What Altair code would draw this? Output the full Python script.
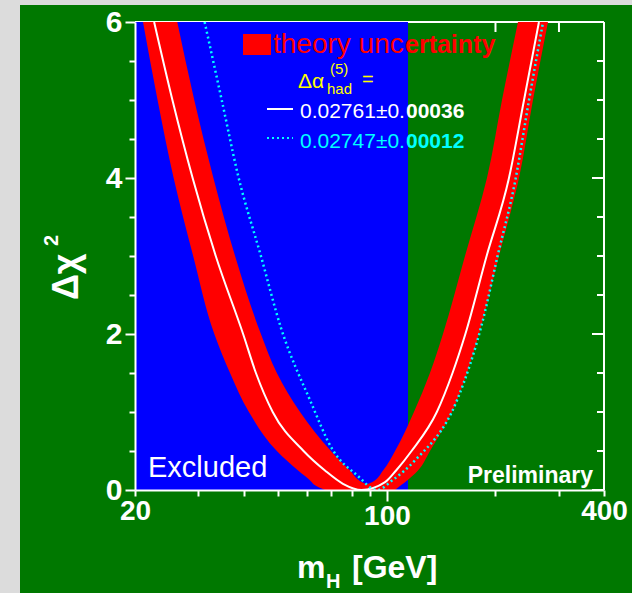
import altair as alt
import pandas as pd

# ---------------- data ----------------
excl_lo = [20.0]
excl_hi = [114.4]

# central fit (white solid)
white_mh = [22.6, 25.4, 28.9, 33.5, 39.9, 43.3, 48.2, 58.7, 67.3, 75.5, 85.0,
            98.8, 106.0, 117.0, 137.5, 152.0, 165.0, 189.0, 218.0, 240.0, 264.0]
white_chi2 = [6.0, 5.0, 4.0, 3.0, 2.0, 1.5, 1.0, 0.5, 0.25, 0.08, 0.0,
              0.1, 0.25, 0.5, 1.0, 1.5, 2.0, 3.0, 4.0, 5.0, 6.0]

# alternative Delta alpha (cyan dotted)
cyan_mh = [31.2, 34.8, 38.6, 44.7, 50.8, 61.2, 70.8, 82.6, 93.8, 103.9,
           119.6, 156.4, 184.6, 202.7, 227.0, 247.8, 271.0]
cyan_chi2 = [6.0, 5.0, 4.04, 3.0, 2.08, 1.15, 0.51, 0.19, 0.0, 0.13,
             0.38, 1.15, 2.18, 3.0, 3.97, 5.0, 6.0]

# theory uncertainty band, left branch (horizontal extent at each chi2 level)
bandL_chi2 = [0.0, 0.07, 0.1, 0.25, 0.5, 1.0, 1.5, 2.0, 3.0, 4.0, 5.0, 6.0]
bandL_lo = [67.3, 62.7, 61.9, 56.7, 49.5, 41.4, 36.7, 33.2, 29.0, 25.6, 23.1, 21.05]
bandL_hi = [88.0, 88.0, 85.3, 79.0, 69.9, 57.4, 49.5, 44.7, 37.9, 33.0, 29.2, 26.2]
# right branch
bandR_chi2 = [0.0, 0.07, 0.1, 0.25, 0.5, 1.0, 1.5, 2.0, 3.0, 4.0, 5.0, 6.0]
bandR_lo = [88.0, 88.0, 90.9, 97.5, 105.3, 118.8, 131.6, 143.0, 164.6, 189.4, 208.5, 230.9]
bandR_hi = [105.3, 110.0, 112.2, 121.9, 131.6, 151.5, 166.7, 180.0, 204.5, 232.4, 254.1, 279.7]

x_ticks = [20, 30, 40, 50, 60, 70, 80, 90, 100, 200, 300, 400]
x_labels = [20, 100, 400]
y_ticks = [0, 0.5, 1, 1.5, 2, 2.5, 3, 3.5, 4, 4.5, 5, 5.5, 6]
y_major = [0, 2, 4, 6]
y_minor = [0.5, 1, 1.5, 2.5, 3, 3.5, 4.5, 5, 5.5]
top_ticks = [200, 300]

legend_title = "theory unc"
legend_title_b = "ertainty"
leg1_a, leg1_b = "0.02761\u00b10.", "00036"
leg2_a, leg2_b = "0.02747\u00b10.", "00012"

# ---------------- styling ----------------
W, H = 469, 468
GREEN = "#007800"
BLUE = "#0000ff"
RED = "#ff0000"
CYAN = "#00ffff"
YELLOW = "#ffff00"
FONT = "Liberation Sans"

x_scale = alt.Scale(type="log", domain=[20, 400], nice=False)
y_scale = alt.Scale(domain=[0, 6], nice=False, zero=False)

label_test = " || ".join(f"datum.value == {v}" for v in x_labels)
X_AX = alt.Axis(values=x_ticks, title=None, grid=False, zindex=1,
                domainColor="white", domainWidth=2, tickColor="white", tickWidth=2,
                tickSize={"condition": {"test": "datum.value == 100", "value": 11}, "value": 6},
                labelExpr=f"({label_test}) ? format(datum.value, 'd') : ''",
                labelColor="white", labelFont=FONT, labelFontSize=28, labelFontWeight="bold",
                labelPadding=1, labelOverlap=False, labelFlush=False, labelBound=False)
Y_AX = alt.Axis(values=y_ticks, title=None, grid=False, zindex=1,
                domainColor="white", domainWidth=2, tickColor="white", tickWidth=2,
                tickSize={"condition": {"test": "datum.value % 2 == 0", "value": 10}, "value": 6},
                labelExpr="datum.value % 2 == 0 ? format(datum.value, 'd') : ''",
                labelColor="white", labelFont=FONT, labelFontSize=30, labelFontWeight="bold",
                labelPadding=3, labelOverlap=False, labelFlush=False, labelBound=False)

one = pd.DataFrame({"k": [0]})

green_bg = alt.Chart(one).mark_rect(color=GREEN).encode(
    x=alt.value(-115), x2=alt.value(497), y=alt.value(-17), y2=alt.value(571))

top_line = alt.Chart(one).mark_rule(color="white", strokeWidth=2).encode(
    x=alt.value(0), x2=alt.value(W), y=alt.value(0))

excl_df = pd.DataFrame({"lo": excl_lo, "hi": excl_hi})
blue = alt.Chart(excl_df).mark_rect(color=BLUE).encode(
    x=alt.X("lo:Q", scale=x_scale, axis=X_AX), x2="hi:Q",
    y=alt.value(0), y2=alt.value(H))

bandL_df = pd.DataFrame({"chi2": bandL_chi2, "lo": bandL_lo, "hi": bandL_hi})
bandR_df = pd.DataFrame({"chi2": bandR_chi2, "lo": bandR_lo, "hi": bandR_hi})


def band(df):
    return alt.Chart(df).mark_area(color=RED, orient="horizontal", interpolate="monotone").encode(
        y=alt.Y("chi2:Q", scale=y_scale, axis=Y_AX),
        x=alt.X("lo:Q", scale=x_scale, axis=X_AX), x2="hi:Q")


white_df = pd.DataFrame({"mh": white_mh, "chi2": white_chi2})
white = alt.Chart(white_df).mark_line(color="white", strokeWidth=2, interpolate="monotone").encode(
    x=alt.X("mh:Q", scale=x_scale, axis=X_AX), y=alt.Y("chi2:Q", scale=y_scale, axis=Y_AX))

cyan_df = pd.DataFrame({"mh": cyan_mh, "chi2": cyan_chi2})
cyan = alt.Chart(cyan_df).mark_line(color=CYAN, strokeWidth=2.5, strokeDash=[2, 3],
                                    interpolate="monotone").encode(
    x=alt.X("mh:Q", scale=x_scale, axis=X_AX), y=alt.Y("chi2:Q", scale=y_scale, axis=Y_AX))

right_line = alt.Chart(one).mark_rule(color="white", strokeWidth=2).encode(
    x=alt.value(W), y=alt.value(0), y2=alt.value(H))

rmaj = alt.Chart(pd.DataFrame({"v": y_major})).mark_rule(color="white", strokeWidth=2).encode(
    y=alt.Y("v:Q", scale=y_scale, axis=Y_AX), x=alt.value(W - 12), x2=alt.value(W))
rmin = alt.Chart(pd.DataFrame({"v": y_minor})).mark_rule(color="white", strokeWidth=2).encode(
    y=alt.Y("v:Q", scale=y_scale, axis=Y_AX), x=alt.value(W - 7), x2=alt.value(W))
tticks = alt.Chart(pd.DataFrame({"v": top_ticks})).mark_rule(color="white", strokeWidth=2).encode(
    x=alt.X("v:Q", scale=x_scale, axis=X_AX), y=alt.value(0), y2=alt.value(10))


def txt(s, x, y, size, color, weight="normal", align="left", angle=0):
    kw = dict(font=FONT, fontSize=size, fontWeight=weight, color=color, align=align,
              baseline="alphabetic")
    if angle:
        kw["angle"] = angle
    return alt.Chart(pd.DataFrame({"t": [s]})).mark_text(**kw).encode(
        text="t:N", x=alt.value(x), y=alt.value(y))


red_sq = alt.Chart(one).mark_rect(color=RED).encode(
    x=alt.value(108), x2=alt.value(136), y=alt.value(12), y2=alt.value(33))
white_leg = alt.Chart(one).mark_rule(color="white", strokeWidth=2).encode(
    x=alt.value(132), x2=alt.value(158), y=alt.value(87))
cyan_leg = alt.Chart(one).mark_rule(color=CYAN, strokeWidth=2, strokeDash=[2, 3]).encode(
    x=alt.value(132), x2=alt.value(158), y=alt.value(116))

texts = [
    txt(legend_title, 138, 31, 28, RED),
    txt(legend_title_b, 270, 31, 25, RED, "bold"),
    txt("\u0394\u03b1", 163, 66, 21, YELLOW),
    txt("(5)", 195, 52, 15, YELLOW),
    txt("had", 192, 72, 15, YELLOW),
    txt("=", 227, 64, 20, YELLOW),
    txt(leg1_a, 165, 96, 21, "white"),
    txt(leg1_b, 271, 96, 21, "white", "bold"),
    txt(leg2_a, 165, 126, 21, CYAN),
    txt(leg2_b, 271, 126, 21, CYAN, "bold"),
    txt("Excluded", 13, 455, 29, "white"),
    txt("Preliminary", 458, 461, 23, "white", "bold", "right"),
    txt("m", 162, 556, 32, "white", "bold"),
    txt("H", 191, 566, 20, "white", "bold"),
    txt("[GeV]", 217, 556, 32, "white", "bold"),
    txt("\u0394\u03c7", -57, 278, 36, "white", "bold", "left", 270),
    txt("2", -77, 224, 20, "white", "bold", "left", 270),
]

chart = alt.layer(
    green_bg, top_line, blue, band(bandL_df), band(bandR_df), white, cyan,
    right_line, rmaj, rmin, tticks, red_sq, white_leg, cyan_leg, *texts
).properties(
    width=W, height=H,
    autosize=alt.AutoSizeParams(type="none"),
    padding={"left": 135, "top": 22, "right": 28, "bottom": 103},
    background="#dcdcdc",
).configure_view(strokeWidth=0)

chart.save("out.html", embed_options={"renderer": "svg", "actions": False})
